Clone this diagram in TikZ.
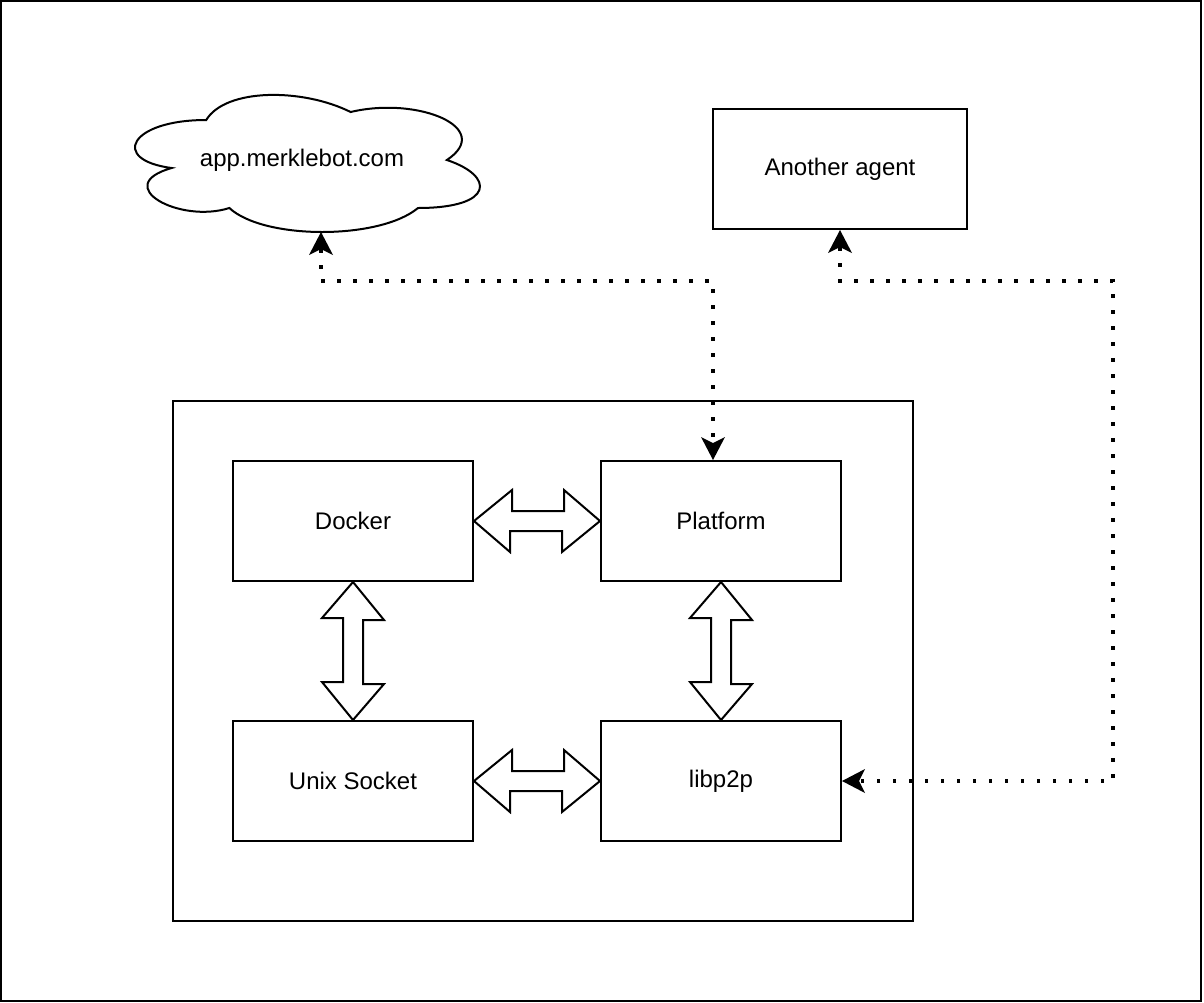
\documentclass[tikz,border=0pt]{standalone}
\usepackage{fontspec}
\setmainfont{Liberation Sans}
\usetikzlibrary{arrows.meta,calc}
\begin{document}
\begin{tikzpicture}[x=1pt,y=-1pt,
  box/.style={draw=black,line width=2pt,fill=white,inner sep=0pt,minimum width=240pt,minimum height=120pt,font=\fontsize{24pt}{28pt}\selectfont},
  lbl/.style={inner sep=0pt,font=\fontsize{24pt}{28pt}\selectfont},
  blockarrow/.style={draw=black,line width=2pt,fill=white,line join=miter},
  dotline/.style={line width=3.5pt,line cap=butt,dash pattern=on 3.5pt off 12.5pt,
    {Stealth[length=23pt,width=24pt,inset=6pt,line width=0pt]}-{Stealth[length=23pt,width=24pt,inset=6pt,line width=0pt]}}
]
\useasboundingbox (0,0) rectangle (1204,1002);
\draw[line width=2pt] (1,1) rectangle (1201,1001);

% container
\node[draw=black,line width=2pt,inner sep=0pt,minimum width=740pt,minimum height=520pt] (container) at (543,661) {};

% nodes
\node[box] (docker) at (353,521) {Docker};
\node[box] (platform) at (721,521) {Platform};
\node[box] (unix) at (353,781) {Unix Socket};
\node[box] (libp2p) at (721,781) {libp2p};
\node[box,minimum width=254pt] (agent) at (840,169) {Another agent};

% cloud
\draw[line width=2pt,fill=white] (206.25,120)
  .. controls (129.25,120) and (110,160) .. (171.6,168)
  .. controls (110,185.6) and (179.3,224) .. (229.35,208)
  .. controls (264,240) and (379.5,240) .. (418,208)
  .. controls (495,208) and (495,176) .. (446.875,160)
  .. controls (495,128) and (418,96) .. (350.625,112)
  .. controls (302.5,88) and (225.5,88) .. cycle;
\node[lbl] (cloud) at (302,160) {app.merklebot.com};
\coordinate (cloudb) at (321,232);

% block arrows
\draw[blockarrow] (docker.east) -- ++(38,-31) -- ++(0,21) -- ++(52,0) -- ++(0,-21) -- (platform.west) -- ++(-38,31) -- ++(0,-21) -- ++(-52,0) -- ++(0,21) -- cycle;
\draw[blockarrow] (unix.east) -- ++(38,-31) -- ++(0,21) -- ++(52,0) -- ++(0,-21) -- (libp2p.west) -- ++(-38,31) -- ++(0,-21) -- ++(-52,0) -- ++(0,21) -- cycle;
\draw[blockarrow] (docker.south) -- ++(31,38) -- ++(-21,0) -- ++(0,64) -- ++(21,0) -- (unix.north) -- ++(-31,-38) -- ++(21,0) -- ++(0,-64) -- ++(-21,0) -- cycle;
\draw[blockarrow] (platform.south) -- ++(31,38) -- ++(-21,0) -- ++(0,64) -- ++(21,0) -- (libp2p.north) -- ++(-31,-38) -- ++(21,0) -- ++(0,-64) -- ++(-21,0) -- cycle;

% dotted connectors
\coordinate (j1) at (713,281);
\coordinate (ptop) at ($(platform.north)+(-8,0)$);
\draw[dotline] (cloudb) |- (j1) -- (ptop);
\coordinate (j2) at (1113,281);
\draw[dotline] (agent.south) |- (j2) |- (libp2p.east);
\end{tikzpicture}
\end{document}
